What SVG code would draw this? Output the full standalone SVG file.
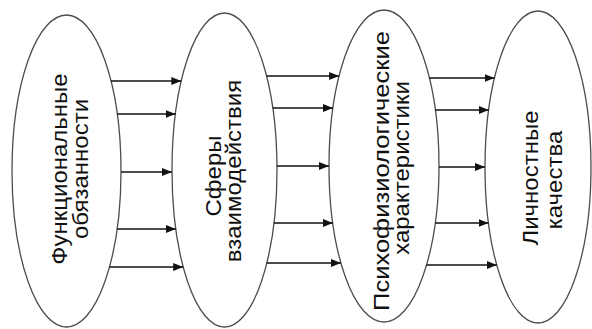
<svg xmlns="http://www.w3.org/2000/svg" width="592" height="329" viewBox="0 0 592 329">
  <style>
    .oval { fill: #ffffff; stroke: #4d4d4d; stroke-width: 1.3; }
    .lbl { font-family: "Liberation Sans", Arial, sans-serif; font-size: 24px; fill: #111111; text-anchor: middle; }
    .arr { stroke: #111111; stroke-width: 1.4; fill: none; marker-end: url(#head); }
  </style>
  <defs>
    <marker id="head" markerUnits="userSpaceOnUse" markerWidth="11" markerHeight="9" refX="10" refY="4" orient="auto">
      <path d="M0,0 L10,4 L0,8 z" fill="#111111"/>
    </marker>
  </defs>
  <rect width="592" height="329" fill="#ffffff"/>

  <g id="node-duties">
    <ellipse class="oval" cx="66.5" cy="171" rx="54.5" ry="156"/>
    <text class="lbl" transform="translate(67,169) rotate(-90) scale(1,0.9)">Функциональные</text>
    <text class="lbl" transform="translate(88,169) rotate(-90) scale(1,0.9)">обязанности</text>
  </g>

  <g id="node-spheres">
    <ellipse class="oval" cx="224.5" cy="170" rx="52.5" ry="157"/>
    <text class="lbl" transform="translate(221,176) rotate(-90) scale(1,0.9)">Сферы</text>
    <text class="lbl" transform="translate(241,171) rotate(-90) scale(1,0.9)">взаимодействия</text>
  </g>

  <g id="node-psycho">
    <ellipse class="oval" cx="384" cy="166" rx="55" ry="156"/>
    <text class="lbl" transform="translate(389,171) rotate(-90) scale(1,0.9)" textLength="280" lengthAdjust="spacingAndGlyphs">Психофизиологические</text>
    <text class="lbl" transform="translate(409,168) rotate(-90) scale(1,0.9)">характеристики</text>
  </g>

  <g id="node-personal">
    <ellipse class="oval" cx="538" cy="167" rx="53" ry="156"/>
    <text class="lbl" transform="translate(538,178) rotate(-90) scale(1,0.9)">Личностные</text>
    <text class="lbl" transform="translate(562,180) rotate(-90) scale(1,0.9)">качества</text>
  </g>

  <g id="connectors">
    <line class="arr" x1="111" y1="81" x2="181.3" y2="81"/>
    <line class="arr" x1="117.2" y1="114" x2="175.5" y2="114"/>
    <line class="arr" x1="121" y1="172" x2="172" y2="172"/>
    <line class="arr" x1="117.1" y1="229" x2="175.8" y2="229"/>
    <line class="arr" x1="109.5" y1="267" x2="183.2" y2="267"/>

    <line class="arr" x1="266.5" y1="76" x2="339.1" y2="76"/>
    <line class="arr" x1="272.7" y1="108" x2="332.9" y2="108"/>
    <line class="arr" x1="277" y1="166" x2="329" y2="166"/>
    <line class="arr" x1="273.9" y1="223" x2="332.8" y2="223"/>
    <line class="arr" x1="266.8" y1="263" x2="340.9" y2="263"/>

    <line class="arr" x1="429.4" y1="78" x2="494.5" y2="78"/>
    <line class="arr" x1="435.3" y1="110" x2="488.7" y2="110"/>
    <line class="arr" x1="439" y1="167" x2="485" y2="167"/>
    <line class="arr" x1="435.2" y1="223" x2="488.5" y2="223"/>
    <line class="arr" x1="426.5" y1="265" x2="496.8" y2="265"/>
  </g>
</svg>
